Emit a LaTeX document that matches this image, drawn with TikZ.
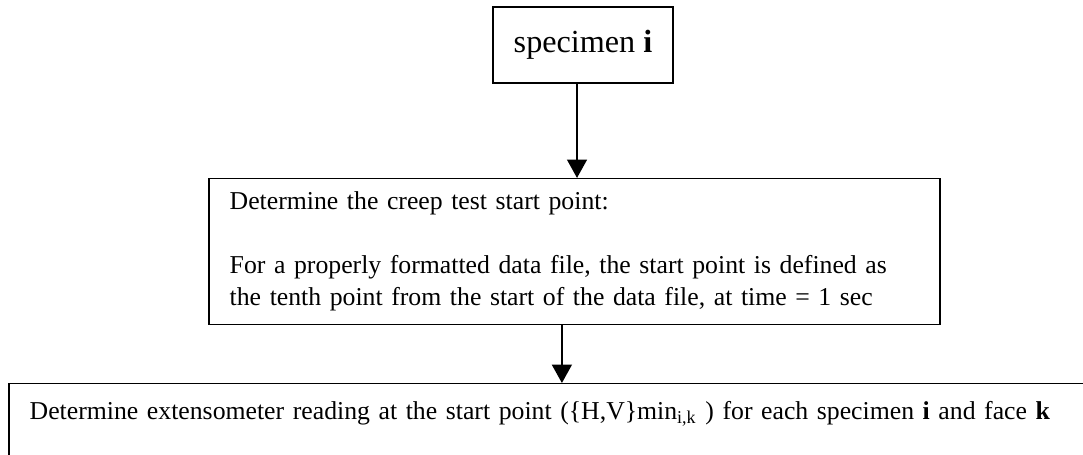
\documentclass[tikz,border=0pt]{standalone}
\usepackage{fontspec}
\setmainfont{Liberation Serif}
\usetikzlibrary{calc, arrows.meta}
\tikzset{>={Triangle[length=8pt, width=8.7pt]},
  stepbox/.style={draw, line width=0.65pt, inner ysep=0pt, font=\fontsize{11.2}{13.9}\selectfont},
  flow/.style={->, line width=0.65pt}
}

\begin{document}
\begin{tikzpicture}
\useasboundingbox (0,0) rectangle (471.1pt,-197.5pt);
\clip (0,0) rectangle (471.1pt,-197.5pt);
\node[stepbox, minimum width=78.3pt, minimum height=33.1pt, font=\fontsize{14}{16}\selectfont] (specimen) at (253.6pt,-19.6pt) {specimen \textbf{i}};
\node[stepbox, anchor=north west, inner xsep=9.1pt, text width=299.8pt, minimum height=63.5pt, align=left] (startpt) at (90.5pt,-77.4pt)
  {Determine the creep test start point:\\[13.9pt]
   For a properly formatted data file, the start point is defined as\\
   the tenth point from the start of the data file, at time = 1 sec};
\node[stepbox, anchor=north west, inner xsep=9.1pt, text width=470pt, align=left, text height=15.7pt, text depth=40pt] (reading) at (3.5pt,-166.6pt)
  {Determine extensometer reading at the start point (\{H,V\}min\textsubscript{i,k} ) for each specimen \textbf{i} and face \textbf{k}};
% arrows
\draw[flow] ([xshift=-2.6pt]specimen.south) -- ([xshift=-2.6pt]specimen.south |- startpt.north);
\draw[flow] ([xshift=-5.4pt]startpt.south) -- ([xshift=-5.4pt]startpt.south |- reading.north);
\end{tikzpicture}
\end{document}
